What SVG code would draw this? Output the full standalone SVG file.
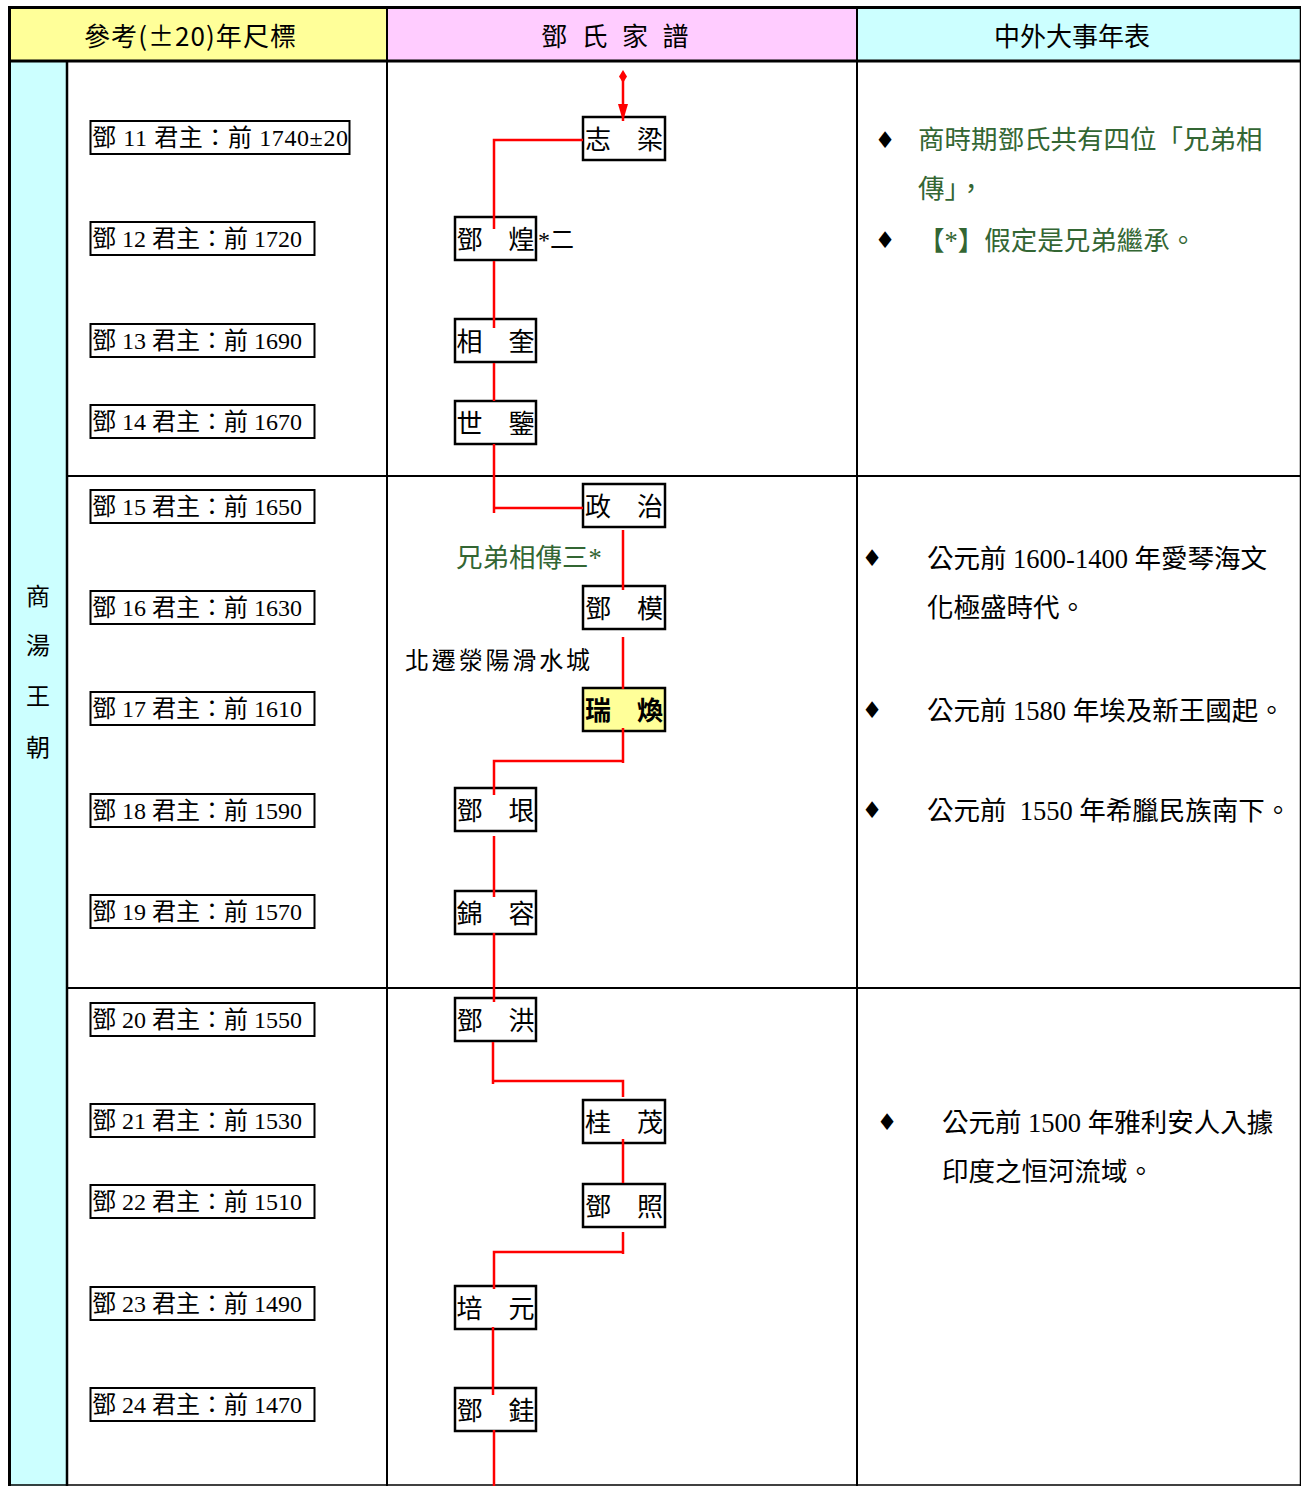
<svg xmlns="http://www.w3.org/2000/svg" width="1301" height="1486" viewBox="0 0 1301 1486">
<style>
.grid{stroke:#000;fill:none}
.hd{font-family:"Noto Sans CJK TC","Noto Sans CJK SC",sans-serif;font-size:26px;fill:#000}
.dyn{font-family:"Noto Sans CJK TC","Noto Sans CJK SC",sans-serif;font-size:24px;fill:#000;text-anchor:middle}
.yb{fill:#fff;stroke:#000;stroke-width:2}
.yt{font-family:"Liberation Serif","Noto Sans CJK TC",serif;font-size:24px;fill:#000}
.nb{fill:#fff;stroke:#000;stroke-width:2.5}
.nbh{fill:#FFFF99;stroke:#000;stroke-width:2.5}
.nt{font-family:"Liberation Serif","Noto Sans CJK TC",serif;font-size:26px;fill:#000;text-anchor:middle}
.ntb{font-weight:bold}
.lbl{font-family:"Liberation Serif","Noto Sans CJK TC",serif;font-size:24px;fill:#000}
.grn{font-family:"Liberation Serif","Noto Sans CJK TC",serif;font-size:26.5px;fill:#336633}
.ev{font-family:"Liberation Serif","Noto Sans CJK TC",serif;font-size:26.5px;fill:#000}
.bul{font-family:"DejaVu Sans",sans-serif;font-size:23px;fill:#000;text-anchor:middle}
.con{stroke:#FF0000;stroke-width:2.5;fill:none}
</style>
<defs>
<marker id="dia" viewBox="-7 -5 14 10" refX="0" refY="0" markerWidth="14" markerHeight="10" markerUnits="userSpaceOnUse" orient="auto">
<path d="M-6.5,0 L0,-4 L6.5,0 L0,4 Z" fill="#FF0000"/>
</marker>
<marker id="arr" viewBox="-18 -6 19 12" refX="0" refY="0" markerWidth="19" markerHeight="12" markerUnits="userSpaceOnUse" orient="auto">
<path d="M0,0 L-17,-5 L-17,5 Z" fill="#FF0000"/>
</marker>
</defs>
<rect width="1301" height="1486" fill="#fff"/>
<g id="table">
<rect x="9" y="7" width="378" height="54" fill="#FFFF99"/>
<rect x="387" y="7" width="470" height="54" fill="#FFCCFF"/>
<rect x="857" y="7" width="444" height="54" fill="#CCFFFF"/>
<rect x="10" y="61" width="57" height="1425" fill="#CCFFFF"/>
<line class="grid" x1="8" y1="7.5" x2="1301" y2="7.5" stroke-width="3"/>
<line class="grid" x1="9.5" y1="6" x2="9.5" y2="1486" stroke-width="3"/>
<line class="grid" x1="1300.5" y1="6" x2="1300.5" y2="1486" stroke-width="1.5"/>
<line class="grid" x1="8" y1="1485" x2="1301" y2="1485" stroke-width="1.5"/>
<line class="grid" x1="8" y1="61" x2="1301" y2="61" stroke-width="3"/>
<line class="grid" x1="387" y1="6" x2="387" y2="1486" stroke-width="2"/>
<line class="grid" x1="857" y1="6" x2="857" y2="1486" stroke-width="2"/>
<line class="grid" x1="67" y1="61" x2="67" y2="1486" stroke-width="2.5"/>
<line class="grid" x1="67" y1="476" x2="1301" y2="476" stroke-width="2"/>
<line class="grid" x1="67" y1="988" x2="1301" y2="988" stroke-width="2"/>
<text class="hd" x="84" y="46" textLength="212" lengthAdjust="spacing">參考(±20)年尺標</text>
<text class="hd" x="541 581.5 622 662.5" y="46">鄧氏家譜</text>
<text class="hd" x="1072" y="46" text-anchor="middle">中外大事年表</text>
<text class="dyn" x="38" y="605">商</text>
<text class="dyn" x="38" y="654">湯</text>
<text class="dyn" x="38" y="705">王</text>
<text class="dyn" x="38" y="756">朝</text>
</g>
<g id="years">
<g id="y11"><rect class="yb" x="90.5" y="121" width="259" height="33"/><text class="yt" x="92" y="145.5" textLength="256" lengthAdjust="spacing">鄧 11 君主：前 1740±20</text></g>
<g id="y12"><rect class="yb" x="90.5" y="222" width="224" height="33"/><text class="yt" x="92" y="246.5">鄧 12 君主：前 1720</text></g>
<g id="y13"><rect class="yb" x="90.5" y="324" width="224" height="33"/><text class="yt" x="92" y="348.5">鄧 13 君主：前 1690</text></g>
<g id="y14"><rect class="yb" x="90.5" y="405" width="224" height="33"/><text class="yt" x="92" y="429.5">鄧 14 君主：前 1670</text></g>
<g id="y15"><rect class="yb" x="90.5" y="490" width="224" height="33"/><text class="yt" x="92" y="514.5">鄧 15 君主：前 1650</text></g>
<g id="y16"><rect class="yb" x="90.5" y="591" width="224" height="33"/><text class="yt" x="92" y="615.5">鄧 16 君主：前 1630</text></g>
<g id="y17"><rect class="yb" x="90.5" y="692" width="224" height="33"/><text class="yt" x="92" y="716.5">鄧 17 君主：前 1610</text></g>
<g id="y18"><rect class="yb" x="90.5" y="794" width="224" height="33"/><text class="yt" x="92" y="818.5">鄧 18 君主：前 1590</text></g>
<g id="y19"><rect class="yb" x="90.5" y="895" width="224" height="33"/><text class="yt" x="92" y="919.5">鄧 19 君主：前 1570</text></g>
<g id="y20"><rect class="yb" x="90.5" y="1003" width="224" height="33"/><text class="yt" x="92" y="1027.5">鄧 20 君主：前 1550</text></g>
<g id="y21"><rect class="yb" x="90.5" y="1104" width="224" height="33"/><text class="yt" x="92" y="1128.5">鄧 21 君主：前 1530</text></g>
<g id="y22"><rect class="yb" x="90.5" y="1185" width="224" height="33"/><text class="yt" x="92" y="1209.5">鄧 22 君主：前 1510</text></g>
<g id="y23"><rect class="yb" x="90.5" y="1287" width="224" height="33"/><text class="yt" x="92" y="1311.5">鄧 23 君主：前 1490</text></g>
<g id="y24"><rect class="yb" x="90.5" y="1388" width="224" height="33"/><text class="yt" x="92" y="1412.5">鄧 24 君主：前 1470</text></g>
</g>
<g id="family">
<g id="n-zhiliang"><rect class="nb" x="583" y="117" width="82" height="43"/><text class="nt" x="624" y="148.5">志　梁</text></g>
<g id="n-denghuang"><rect class="nb" x="455" y="217" width="81" height="43"/><text class="nt" x="495.5" y="248.5">鄧　煌</text></g>
<g id="n-xiangkui"><rect class="nb" x="455" y="319" width="81" height="43"/><text class="nt" x="495.5" y="350.5">相　奎</text></g>
<g id="n-shijian"><rect class="nb" x="455" y="401" width="81" height="43"/><text class="nt" x="495.5" y="432.5">世　鑒</text></g>
<g id="n-zhengzhi"><rect class="nb" x="583" y="484" width="82" height="43"/><text class="nt" x="624" y="515.5">政　治</text></g>
<g id="n-dengmo"><rect class="nb" x="583" y="586" width="82" height="43"/><text class="nt" x="624" y="617.5">鄧　模</text></g>
<g id="n-ruihuan"><rect class="nbh" x="583" y="688" width="82" height="43"/><text class="nt ntb" x="624" y="719.5">瑞　煥</text></g>
<g id="n-dengyin"><rect class="nb" x="455" y="788" width="81" height="43"/><text class="nt" x="495.5" y="819.5">鄧　垠</text></g>
<g id="n-jinrong"><rect class="nb" x="455" y="891" width="81" height="43"/><text class="nt" x="495.5" y="922.5">錦　容</text></g>
<g id="n-denghong"><rect class="nb" x="455" y="998" width="81" height="43"/><text class="nt" x="495.5" y="1029.5">鄧　洪</text></g>
<g id="n-guimao"><rect class="nb" x="583" y="1100" width="82" height="43"/><text class="nt" x="624" y="1131.5">桂　茂</text></g>
<g id="n-dengzhao"><rect class="nb" x="583" y="1184" width="82" height="43"/><text class="nt" x="624" y="1215.5">鄧　照</text></g>
<g id="n-peiyuan"><rect class="nb" x="455" y="1286" width="81" height="43"/><text class="nt" x="495.5" y="1317.5">培　元</text></g>
<g id="n-denggui"><rect class="nb" x="455" y="1388" width="81" height="43"/><text class="nt" x="495.5" y="1419.5">鄧　銈</text></g>
<text class="lbl" x="538" y="248">*二</text>
<text class="grn" x="456" y="567" font-size="25">兄弟相傳三*</text>
<text class="lbl" x="405" y="669" font-size="26" textLength="185" lengthAdjust="spacing">北遷滎陽滑水城</text>
</g>
<g id="connectors">
<path class="con" d="M623,76.5 V121" marker-start="url(#dia)" marker-end="url(#arr)"/>
<path class="con" d="M583,140 H494 V229"/>
<path class="con" d="M494,261 V328"/>
<path class="con" d="M494,363 V401"/>
<path class="con" d="M494,444 V513 M494,508 H583"/>
<path class="con" d="M623,530 V590"/>
<path class="con" d="M623,637 V689"/>
<path class="con" d="M623,728 V763 M623,761 H494 V795"/>
<path class="con" d="M494,836 V897"/>
<path class="con" d="M494,933 V1002"/>
<path class="con" d="M493,1042 V1084 M493,1081 H623 V1097"/>
<path class="con" d="M623,1139 V1183"/>
<path class="con" d="M623,1232 V1254 M623,1252 H494 V1289"/>
<path class="con" d="M493,1327 V1395"/>
<path class="con" d="M494,1430 V1486"/>
</g>
<g id="events">
<text class="bul" x="885" y="148">♦</text>
<text class="grn" x="918" y="149">商時期鄧氏共有四位「兄弟相</text>
<text class="grn" x="918" y="198">傳」，</text>
<text class="bul" x="885" y="248">♦</text>
<text class="grn" x="918" y="250">【*】假定是兄弟繼承。</text>
<text class="bul" x="872" y="566">♦</text>
<text class="ev" x="927" y="568">公元前 1600-1400 年愛琴海文</text>
<text class="ev" x="927" y="617">化極盛時代。</text>
<text class="bul" x="872" y="718">♦</text>
<text class="ev" x="927" y="720">公元前 1580 年埃及新王國起。</text>
<text class="bul" x="872" y="818">♦</text>
<text class="ev" x="927" y="820" xml:space="preserve">公元前  1550 年希臘民族南下。</text>
<text class="bul" x="887" y="1130">♦</text>
<text class="ev" x="942" y="1132">公元前 1500 年雅利安人入據</text>
<text class="ev" x="942" y="1181">印度之恒河流域。</text>
</g>
</svg>
